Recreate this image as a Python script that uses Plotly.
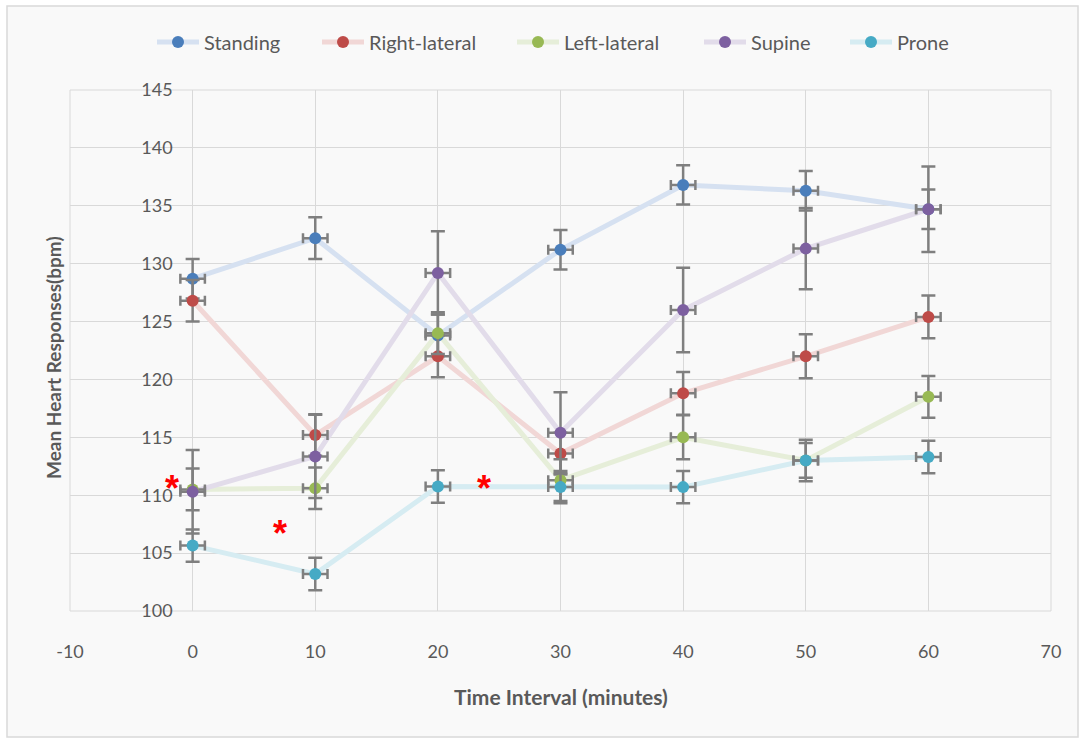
import plotly.graph_objects as go

# ---- data ----
times = [0, 10, 20, 30, 40, 50, 60]
series_names = ["Standing", "Right-lateral", "Left-lateral", "Supine", "Prone"]
standing = [128.7, 132.2, 123.8, 131.2, 136.8, 136.3, 134.7]
standing_err = [1.7, 1.8, 1.8, 1.7, 1.7, 1.7, 1.7]
right_lateral = [126.8, 115.2, 122.0, 113.6, 118.8, 122.0, 125.4]
right_lateral_err = [1.8, 1.8, 1.8, 1.8, 1.85, 1.9, 1.85]
left_lateral = [110.5, 110.6, 124.0, 111.3, 115.0, 113.0, 118.5]
left_lateral_err = [1.8, 1.8, 1.8, 1.8, 1.9, 1.8, 1.8]
supine = [110.3, 113.35, 129.2, 115.4, 126.0, 131.3, 134.7]
supine_err = [3.6, 3.6, 3.6, 3.5, 3.65, 3.5, 3.7]
prone = [105.65, 103.2, 110.75, 110.7, 110.7, 113.0, 113.3]
prone_err = [1.4, 1.4, 1.4, 1.4, 1.4, 1.5, 1.4]
time_err = [1, 1, 1, 1, 1, 1, 1]

star_x = [-1.7, 7.1, 23.8]
star_y = [111.2, 107.3, 111.2]

x_ticks = [-10, 0, 10, 20, 30, 40, 50, 60, 70]
x_tick_labels = ["-10", "0", "10", "20", "30", "40", "50", "60", "70"]
y_ticks = [100, 105, 110, 115, 120, 125, 130, 135, 140, 145]

# ---- styles ----
marker_colors = ["#4a7ebb", "#be4b48", "#98b954", "#7d60a0", "#46aac5"]
line_colors = ["#d6e1f1", "#f1d7d6", "#e6eed9", "#e2dcea", "#d6ecf2"]
values = [standing, right_lateral, left_lateral, supine, prone]
errors = [standing_err, right_lateral_err, left_lateral_err, supine_err, prone_err]
legend_marker_px = [177, 342, 537, 724, 870]

FONT = "Lato"
GREY = "#595959"

L, R, T, B = 70, 35, 90, 128
W, H = 1086, 739
pw, ph = W - L - R, H - T - B


def px_to_paper_x(px):
    return (px - L) / pw


def px_to_paper_y(py):
    return (H - B - py) / ph


fig = go.Figure()

# lines first (under all markers)
for name, vals, lc in zip(series_names, values, line_colors):
    fig.add_trace(go.Scatter(x=times, y=vals, mode="lines", line=dict(color=lc, width=5),
                             showlegend=False, hoverinfo="skip", legendgroup=name))

# markers with error bars
for name, vals, err, mc in zip(series_names, values, errors, marker_colors):
    fig.add_trace(go.Scatter(
        x=times, y=vals, mode="markers", name=name, legendgroup=name, showlegend=False,
        marker=dict(color=mc, size=12),
        error_y=dict(type="data", array=err, visible=True, color="#7f7f7f", thickness=2.5, width=7),
        error_x=dict(type="data", array=time_err, visible=True, color="#7f7f7f", thickness=2.5, width=5),
    ))

# legend entries, each in its own legend box for exact spacing
legend_layouts = {}
for i, (name, mc, lc, mpx) in enumerate(zip(series_names, marker_colors, line_colors, legend_marker_px)):
    lname = "legend" if i == 0 else f"legend{i + 1}"
    fig.add_trace(go.Scatter(x=[None], y=[None], mode="lines+markers", name=name, legendgroup=name,
                             legend=lname, line=dict(color=lc, width=5), marker=dict(color=mc, size=12)))
    legend_layouts[lname] = dict(orientation="h", x=px_to_paper_x(mpx - 25), xanchor="left",
                                 y=px_to_paper_y(42), yanchor="middle", itemwidth=42,
                                 font=dict(size=20, color=GREY, family=FONT),
                                 bgcolor="rgba(0,0,0,0)")

# significance stars
star_annotations = [
    dict(x=sx, y=sy, xref="x", yref="y", text="<b>*</b>", showarrow=False, yshift=-7,
         font=dict(color="#ff0000", size=36, family="Liberation Sans"))
    for sx, sy in zip(star_x, star_y)
]

fig.update_layout(
    width=W, height=H, autosize=False,
    margin=dict(l=L, r=R, t=T, b=B),
    paper_bgcolor="white", plot_bgcolor="#fefefe",
    font=dict(family=FONT, color=GREY, size=18),
    showlegend=True,
    xaxis=dict(range=[-10, 70], tickvals=x_ticks, ticktext=x_tick_labels, showgrid=True,
               gridcolor="#d9d9d9", gridwidth=1, zeroline=False, showline=False, ticks="",
               ticklabelstandoff=28, tickfont=dict(size=18, color=GREY)),
    yaxis=dict(range=[100, 145], tickvals=y_ticks, showgrid=True, gridcolor="#d9d9d9", gridwidth=1,
               zeroline=False, showline=False, ticks="", anchor="free", position=10 / 80,
               ticklabelstandoff=20, tickfont=dict(size=18, color=GREY)),
    shapes=[
        dict(type="rect", xref="paper", yref="paper",
             x0=px_to_paper_x(7), x1=px_to_paper_x(1078), y0=px_to_paper_y(737), y1=px_to_paper_y(6),
             line=dict(color="#d9d9d9", width=1.5), fillcolor="#f9f9f9", layer="below"),
        dict(type="rect", xref="paper", yref="paper", x0=0, x1=1, y0=0, y1=1,
             line=dict(color="#d9d9d9", width=1), layer="below"),
    ],
    annotations=[
        dict(text="<b>Time Interval (minutes)</b>", xref="paper", yref="paper",
             x=0.5, y=px_to_paper_y(696), xanchor="center", yanchor="middle", showarrow=False,
             font=dict(size=21, color=GREY, family=FONT)),
        dict(text="<b>Mean Heart Responses(bpm)</b>", xref="paper", yref="paper",
             x=px_to_paper_x(53), y=px_to_paper_y(358), xanchor="center", yanchor="middle",
             showarrow=False, textangle=-90, font=dict(size=19, color=GREY, family=FONT)),
    ] + star_annotations,
    **legend_layouts,
)

fig.write_html("out.html")
